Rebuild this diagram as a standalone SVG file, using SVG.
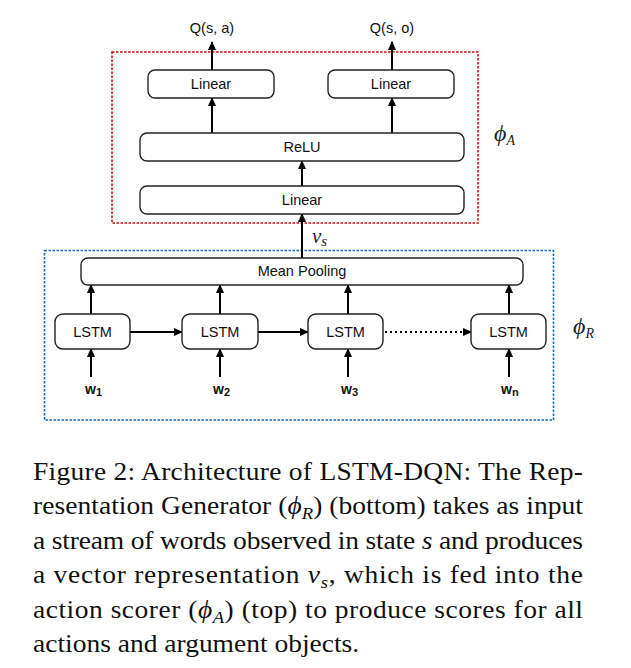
<svg xmlns="http://www.w3.org/2000/svg" width="631" height="668" viewBox="0 0 631 668">
<style>
.box{fill:#fff;stroke:#222;stroke-width:1.4}
.lbl{font-family:"Liberation Sans",Arial,sans-serif;font-size:14.5px;fill:#111;text-anchor:middle}
.w{font-family:"Liberation Sans",Arial,sans-serif;font-size:14px;font-weight:bold;fill:#111}
.sub{font-size:11px}
.math{font-family:"Liberation Serif","DejaVu Serif",serif;font-style:italic;fill:#222}
.cap{font-family:"Liberation Serif","Times New Roman",serif;font-size:25px;fill:#111}
.arr{stroke:#000;stroke-width:2;fill:none;marker-end:url(#ah)}
.dot{stroke:#000;stroke-width:2;fill:none;stroke-dasharray:2 3;marker-end:url(#ah)}
</style>
<defs>
<marker id="ah" markerUnits="userSpaceOnUse" markerWidth="9" markerHeight="8" refX="8" refY="4" orient="auto">
<path d="M0,0 L9,4 L0,8 z" fill="#000"/>
</marker>
</defs>
<rect width="631" height="668" fill="#fff"/>

<g id="actionScorer">
<rect x="112" y="52" width="366" height="171" fill="none" stroke="#cc1111" stroke-width="1.6" stroke-dasharray="2.5 1.5"/>
<text class="math" x="494" y="141" font-size="24">ϕ<tspan font-size="14" dy="4">A</tspan></text>
</g>
<g id="repGen">
<rect x="44.5" y="250.5" width="509" height="169.5" fill="none" stroke="#1466c8" stroke-width="1.6" stroke-dasharray="2.5 1.5"/>
<text class="math" x="573" y="334" font-size="24">ϕ<tspan font-size="14" dy="4">R</tspan></text>
</g>

<g id="connectors">
<line class="arr" x1="212" y1="70" x2="212" y2="42"/>
<line class="arr" x1="392" y1="70" x2="392" y2="42"/>
<line class="arr" x1="212" y1="133" x2="212" y2="98"/>
<line class="arr" x1="392" y1="133" x2="392" y2="98"/>
<line class="arr" x1="302" y1="186" x2="302" y2="161"/>
<line class="arr" x1="302" y1="258" x2="302" y2="214"/>
<line class="arr" x1="91" y1="314" x2="91" y2="285"/>
<line class="arr" x1="220" y1="314" x2="220" y2="285"/>
<line class="arr" x1="348" y1="314" x2="348" y2="285"/>
<line class="arr" x1="509" y1="314" x2="509" y2="285"/>
<line class="arr" x1="91" y1="377" x2="91" y2="349"/>
<line class="arr" x1="220" y1="377" x2="220" y2="349"/>
<line class="arr" x1="348" y1="377" x2="348" y2="349"/>
<line class="arr" x1="509" y1="377" x2="509" y2="349"/>
<line class="arr" x1="130" y1="332" x2="182" y2="332"/>
<line class="arr" x1="258" y1="332" x2="308" y2="332"/>
<line class="dot" x1="385" y1="332" x2="471" y2="332"/>
</g>

<g id="qsa"><text class="lbl" x="212" y="33">Q(s, a)</text></g>
<g id="qso"><text class="lbl" x="392" y="33">Q(s, o)</text></g>
<g id="linearA"><rect class="box" x="148" y="70" width="126" height="28" rx="7"/><text class="lbl" x="211" y="89">Linear</text></g>
<g id="linearO"><rect class="box" x="328" y="70" width="126" height="28" rx="7"/><text class="lbl" x="391" y="89">Linear</text></g>
<g id="relu"><rect class="box" x="140" y="133" width="324" height="28" rx="7"/><text class="lbl" x="302" y="152">ReLU</text></g>
<g id="linear"><rect class="box" x="140" y="186" width="324" height="28" rx="7"/><text class="lbl" x="302" y="205">Linear</text></g>
<g id="vs"><text class="math" x="312" y="243" font-size="21">v<tspan font-size="15" dy="3">s</tspan></text></g>
<g id="meanPooling"><rect class="box" x="81" y="258" width="442" height="27" rx="7"/><text class="lbl" x="302" y="276">Mean Pooling</text></g>
<g id="lstm1"><rect class="box" x="55" y="314" width="75" height="35" rx="8"/><text class="lbl" x="92.5" y="337">LSTM</text></g>
<g id="lstm2"><rect class="box" x="182" y="314" width="76" height="35" rx="8"/><text class="lbl" x="220" y="337">LSTM</text></g>
<g id="lstm3"><rect class="box" x="308" y="314" width="75" height="35" rx="8"/><text class="lbl" x="345.5" y="337">LSTM</text></g>
<g id="lstmn"><rect class="box" x="471" y="314" width="75" height="35" rx="8"/><text class="lbl" x="508.5" y="337">LSTM</text></g>
<g id="w1"><text class="w" x="85" y="394">w<tspan class="sub" dy="1.5">1</tspan></text></g>
<g id="w2"><text class="w" x="213" y="394">w<tspan class="sub" dy="1.5">2</tspan></text></g>
<g id="w3"><text class="w" x="341" y="394">w<tspan class="sub" dy="1.5">3</tspan></text></g>
<g id="wn"><text class="w" x="501" y="394">w<tspan class="sub" dy="1.5">n</tspan></text></g>

<g id="caption" transform="translate(33,0) scale(1.1,1)">
<text class="cap" x="0" y="480" textLength="500" lengthAdjust="spacing">Figure 2: Architecture of LSTM-DQN: The Rep-</text>
<text class="cap" x="0" y="514.5" textLength="500" lengthAdjust="spacing">resentation Generator (<tspan font-style="italic">ϕ</tspan><tspan font-style="italic" font-size="17" dy="5">R</tspan><tspan dy="-5">) (bottom) takes as input</tspan></text>
<text class="cap" x="0" y="549" textLength="500" lengthAdjust="spacing">a stream of words observed in state <tspan font-style="italic">s</tspan> and produces</text>
<text class="cap" x="0" y="583.5" textLength="500" lengthAdjust="spacing">a vector representation <tspan font-style="italic">v</tspan><tspan font-style="italic" font-size="17" dy="5">s</tspan><tspan dy="-5">, which is fed into the</tspan></text>
<text class="cap" x="0" y="618" textLength="500" lengthAdjust="spacing">action scorer (<tspan font-style="italic">ϕ</tspan><tspan font-style="italic" font-size="17" dy="5">A</tspan><tspan dy="-5">) (top) to produce scores for all</tspan></text>
<text class="cap" x="0" y="652.5">actions and argument objects.</text>
</g>
</svg>
